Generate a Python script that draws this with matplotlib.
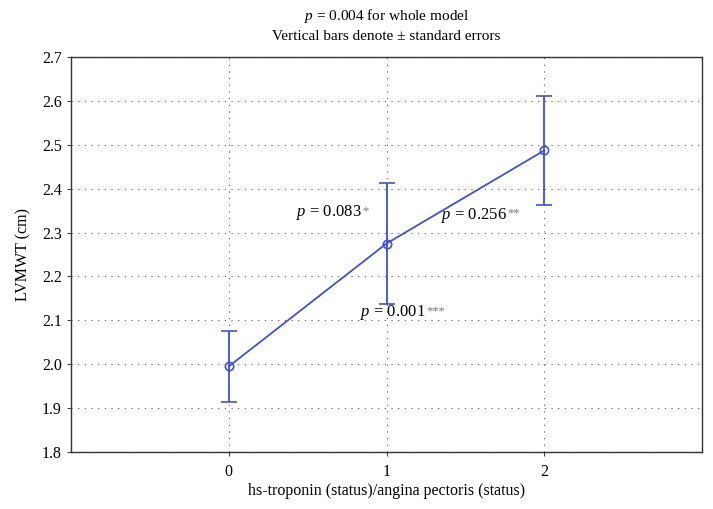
import numpy as np
import matplotlib
matplotlib.use("Agg")
import matplotlib.pyplot as plt

plt.rcParams['font.family'] = ['Liberation Serif', 'DejaVu Serif']
plt.rcParams['mathtext.fontset'] = 'custom'
plt.rcParams['mathtext.rm'] = 'Liberation Serif'
plt.rcParams['mathtext.it'] = 'Liberation Serif:italic'

# data
status = [0, 1, 2]
means = [1.995, 2.275, 2.487]
se = [0.081, 0.138, 0.124]
yticks = [1.8, 1.9, 2.0, 2.1, 2.2, 2.3, 2.4, 2.5, 2.6, 2.7]

# p-value notes: (x where number ends, y, text, stars)
notes = [
    (0.84, 2.345, r'$p$ = 0.083', '*'),
    (1.76, 2.340, r'$p$ = 0.256', '**'),
    (1.25, 2.117, r'$p$ = 0.001', '***'),
]

blue = '#3f51d6'

fig = plt.figure(figsize=(7.13, 5.09), dpi=100)
ax = fig.add_axes([0.0996, 0.112, 0.885, 0.776])

ax.errorbar(status, means, yerr=se, color=blue, lw=1.3, capsize=5.5,
            capthick=1.3, marker='o', ms=6, mfc='none', mec=blue, mew=1.2)

ax.set_xlim(-1, 3)
ax.set_ylim(1.8, 2.7)
ax.set_xticks(status)
ax.set_yticks(yticks)
ax.set_yticklabels([f'{v:.1f}' for v in yticks])
ax.tick_params(labelsize=11.5, length=3, width=0.8, color='#444444')
ax.tick_params(axis='x', pad=6)
ax.grid(True, linestyle=(0, (1, 5)), color='#555555', lw=0.8)
for s in ax.spines.values():
    s.set_linewidth(1.0)
    s.set_color('#333333')

for x, y, t, star in notes:
    txt = ax.text(x, y, t, fontsize=12, ha='right', va='center')
    ax.annotate(star, xy=(1, 0.5), xycoords=txt, xytext=(0.5, 1),
                textcoords='offset points', fontsize=9, color='#777777',
                ha='left', va='center')

ax.set_xlabel('hs-troponin (status)/angina pectoris (status)', fontsize=11.5, labelpad=2)
ax.set_ylabel('LVMWT (cm)', fontsize=11.5, labelpad=8)
ax.set_title('$p$ = 0.004 for whole model\nVertical bars denote \u00b1 standard errors',
             fontsize=11, pad=12, linespacing=1.5)

fig.savefig('out.png', dpi=100)
